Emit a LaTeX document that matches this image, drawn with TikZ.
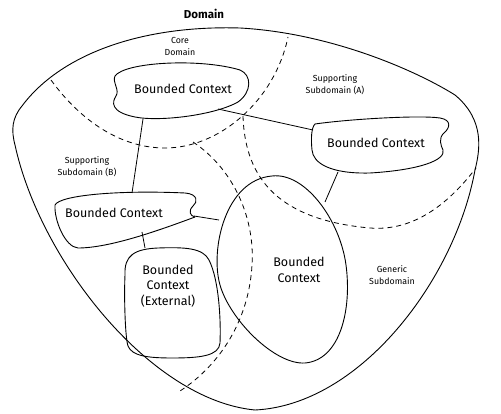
\documentclass[tikz,border=0pt]{standalone}
\usepackage{fontspec}
\setmainfont{Fira Sans}
\begin{document}
\begin{tikzpicture}[x=1pt,y=-1pt,line join=round,
  boundary/.style={line width=0.9pt},
  subdom/.style={line width=0.8pt,dash pattern=on 5pt off 4pt},
  link/.style={line width=0.8pt},
  bctext/.style={font=\fontsize{12.5}{15.5}\selectfont,align=center,inner sep=0pt},
  sublabel/.style={font=\fontsize{8.8}{12}\selectfont,align=center,inner sep=0pt},
  titletext/.style={font=\fontsize{11.5}{13}\selectfont\bfseries,inner sep=0pt}]
\useasboundingbox (0,0) rectangle (501,414);

% outer domain
\draw[boundary] (240,28) .. controls (330,33) and (415,70) .. (455,95)
  .. controls (485,120) and (480,150) .. (475,170)
  .. controls (455,280) and (360,405) .. (255,410)
  .. controls (150,400) and (40,260) .. (15,145)
  .. controls (11,130) and (12,118) .. (22,106)
  .. controls (60,55) and (140,25) .. (240,28) -- cycle;

% subdomain boundaries
\draw[subdom] (51,80) .. controls (80,120) and (120,148) .. (165,148)
  .. controls (220,148) and (275,100) .. (288,37);
\draw[subdom] (243,116) .. controls (245,180) and (280,220) .. (370,228)
  .. controls (420,232) and (455,195) .. (476,168);
\draw[subdom] (193,142) .. controls (235,170) and (255,220) .. (252,265)
  .. controls (249,320) and (220,365) .. (180,391);

% bounded contexts
\draw[boundary] (115,76) .. controls (125,62) and (200,58) .. (240,70)
  .. controls (252,75) and (252,92) .. (238,102)
  .. controls (215,115) and (160,122) .. (135,117)
  .. controls (110,112) and (112,102) .. (116,96)
  .. controls (120,90) and (112,82) .. (115,76) -- cycle;
\draw[boundary] (315,124) .. controls (350,119) and (420,115) .. (440,118)
  .. controls (452,120) and (450,128) .. (444,133)
  .. controls (438,138) and (441,146) .. (443,150)
  .. controls (446,160) and (420,170) .. (370,173)
  .. controls (330,174) and (313,163) .. (312,150)
  .. controls (311,140) and (311,128) .. (315,124) -- cycle;
\draw[boundary] (55,205) .. controls (60,195) and (120,190) .. (185,193)
  .. controls (198,194) and (198,202) .. (193,206)
  .. controls (188,211) and (190,216) .. (195,217)
  .. controls (160,230) and (110,248) .. (78,248)
  .. controls (65,247) and (54,220) .. (55,205) -- cycle;
\draw[boundary] (125,275) .. controls (124,255) and (135,249) .. (158,248)
  .. controls (185,247) and (203,248) .. (209,260)
  .. controls (219,280) and (221,320) .. (220,343)
  .. controls (219,356) and (200,358) .. (172,358)
  .. controls (148,358) and (132,356) .. (128,346)
  .. controls (125,337) and (124,295) .. (125,275) -- cycle;
\draw[boundary] (272,176) .. controls (305,172) and (340,220) .. (346,265)
  .. controls (352,310) and (340,360) .. (305,363)
  .. controls (275,365) and (230,320) .. (220,285)
  .. controls (210,250) and (225,180) .. (272,176) -- cycle;

% connection points
\coordinate (coreS) at (143,119);
\coordinate (coreE) at (218,109);
\coordinate (aW) at (313,130);
\coordinate (aS) at (338,172);
\coordinate (bN) at (132,193);
\coordinate (bE) at (194,216);
\coordinate (bS) at (142,232);
\coordinate (extN) at (145,248);
\coordinate (eggW) at (219,220);
\coordinate (eggN) at (325,202);

\draw[link] (coreS) -- (bN);
\draw[link] (coreE) -- (aW);
\draw[link] (aS) -- (eggN);
\draw[link] (bE) -- (eggW);
\draw[link] (bS) -- (extN);

% labels
\node[titletext] (domain) at (204,14) {Domain};
\node[sublabel] (core) at (180,46) {Core\\Domain};
\node[sublabel] (supA) at (335,85) {Supporting\\Subdomain (A)};
\node[sublabel] (supB) at (87,167) {Supporting\\Subdomain (B)};
\node[sublabel] (gen) at (392,275) {Generic\\Subdomain};

\node[bctext] (bcCore) at (183,89) {Bounded Context};
\node[bctext] (bcA) at (376,143) {Bounded Context};
\node[bctext] (bcB) at (114,213) {Bounded Context};
\node[bctext] (bcExt) at (168,286) {Bounded\\Context\\(External)};
\node[bctext] (bcEgg) at (299,270) {Bounded\\Context};
\end{tikzpicture}
\end{document}
